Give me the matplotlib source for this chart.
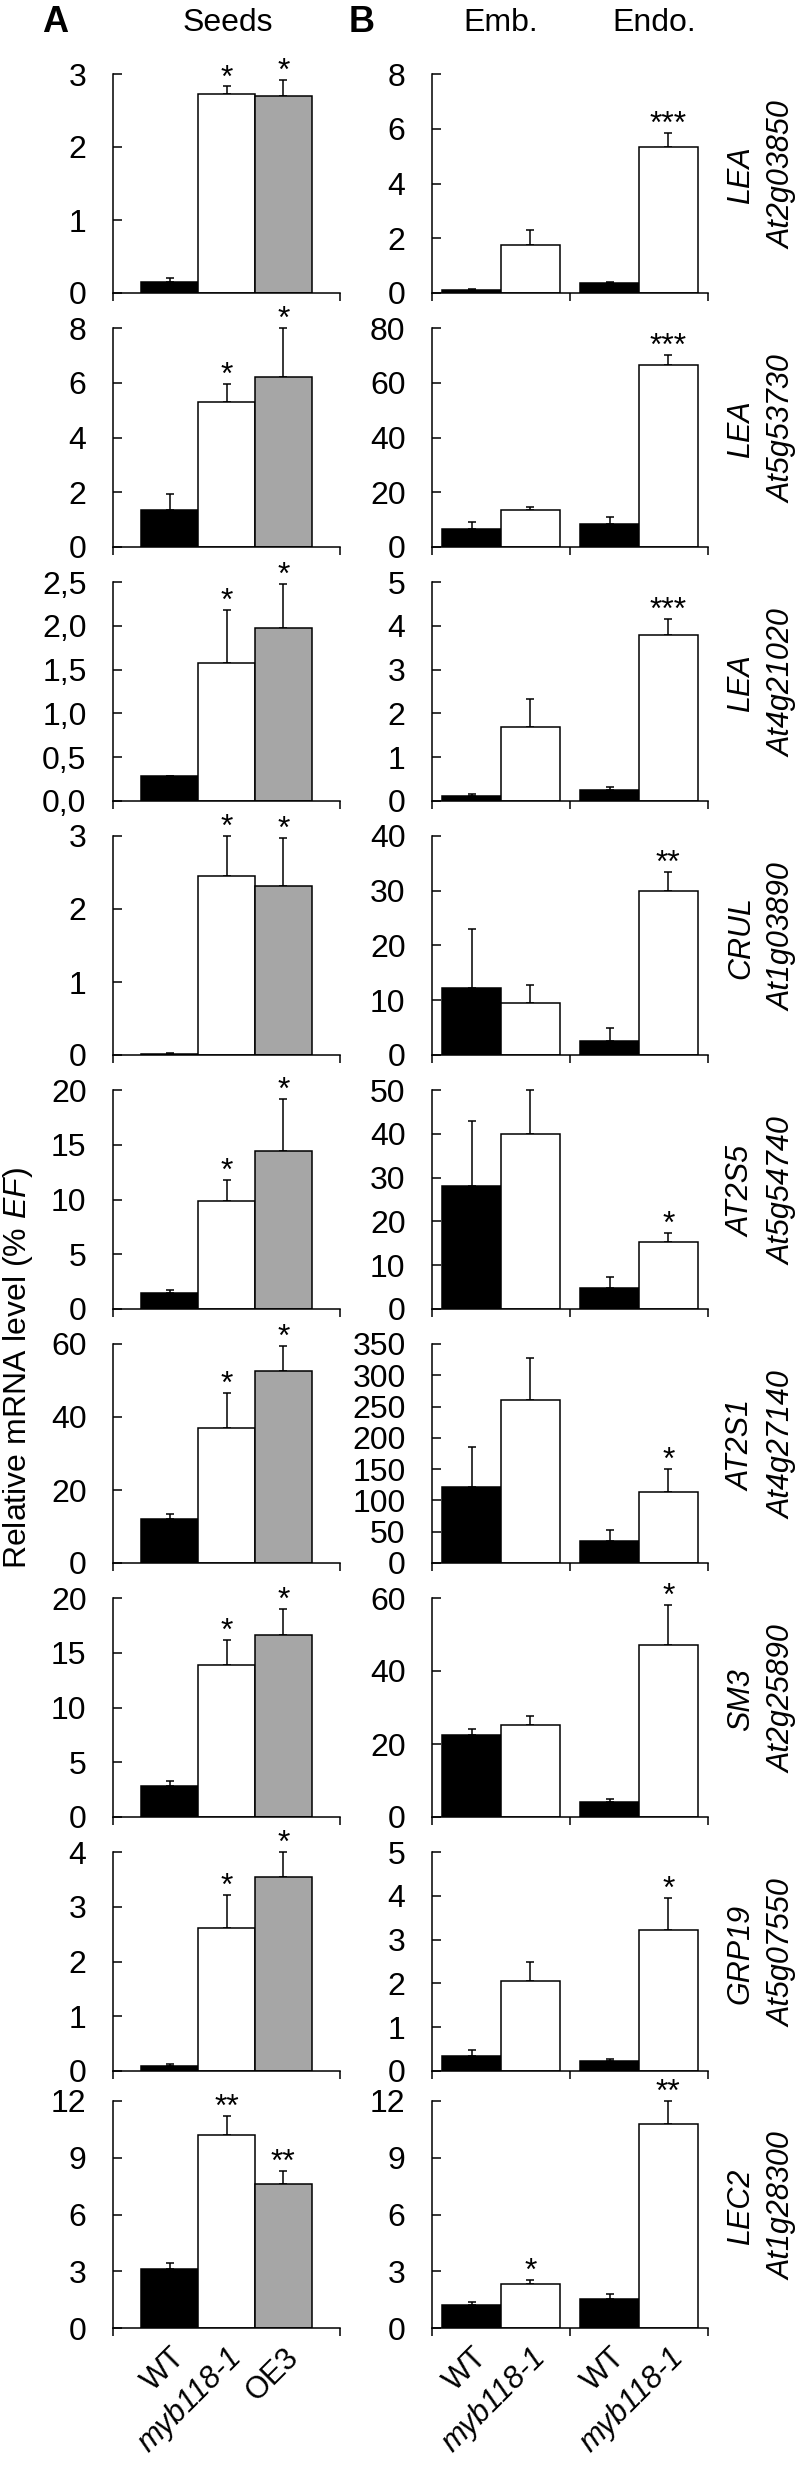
import matplotlib
matplotlib.use("Agg")
import matplotlib.pyplot as plt
import numpy as np

# ---------------- data ----------------
genes = ['LEA', 'LEA', 'LEA', 'CRUL', 'AT2S5', 'AT2S1', 'SM3', 'GRP19', 'LEC2']
loci = ['At2g03850', 'At5g53730', 'At4g21020', 'At1g03890', 'At5g54740',
        'At4g27140', 'At2g25890', 'At5g07550', 'At1g28300']

seeds_labels = ['WT', 'myb118-1', 'OE3']
seeds_wt = [0.15, 1.35, 0.28, 0.02, 1.5, 12.0, 2.8, 0.1, 3.1]
seeds_wt_err = [0.05, 0.6, 0.01, 0.01, 0.25, 1.5, 0.5, 0.03, 0.35]
seeds_myb = [2.73, 5.3, 1.58, 2.45, 9.9, 37.0, 13.9, 2.62, 10.2]
seeds_myb_err = [0.1, 0.65, 0.6, 0.55, 1.9, 9.5, 2.3, 0.6, 1.0]
seeds_oe3 = [2.7, 6.2, 1.98, 2.32, 14.4, 52.5, 16.6, 3.55, 7.6]
seeds_oe3_err = [0.22, 1.8, 0.5, 0.65, 4.8, 7.0, 2.4, 0.45, 0.7]
seeds_myb_stars = ['*', '*', '*', '*', '*', '*', '*', '*', '**']
seeds_oe3_stars = ['*', '*', '*', '*', '*', '*', '*', '*', '**']

tissue_labels = ['WT', 'myb118-1', 'WT', 'myb118-1']
emb_wt = [0.1, 6.5, 0.12, 12.3, 28.0, 122.0, 22.5, 0.35, 1.2]
emb_wt_err = [0.05, 2.5, 0.03, 10.7, 15.0, 63.0, 1.5, 0.12, 0.2]
emb_myb = [1.75, 13.5, 1.68, 9.5, 40.0, 260.0, 25.3, 2.05, 2.3]
emb_myb_err = [0.55, 1.2, 0.65, 3.3, 10.0, 67.0, 2.4, 0.45, 0.25]
endo_wt = [0.35, 8.5, 0.25, 2.6, 4.8, 35.0, 4.0, 0.22, 1.55]
endo_wt_err = [0.05, 2.3, 0.07, 2.4, 2.5, 17.0, 0.8, 0.05, 0.25]
endo_myb = [5.35, 66.5, 3.8, 30.0, 15.3, 113.0, 47.0, 3.22, 10.8]
endo_myb_err = [0.48, 3.5, 0.35, 3.5, 2.0, 37.0, 11.0, 0.73, 1.2]
emb_myb_stars = ['', '', '', '', '', '', '', '', '*']
endo_myb_stars = ['***', '***', '***', '**', '*', '*', '*', '*', '**']

a_ymax = [3, 8, 2.5, 3, 20, 60, 20, 4, 12]
a_ystep = [1, 2, 0.5, 1, 5, 20, 5, 1, 3]
a_decimals = [0, 0, 1, 0, 0, 0, 0, 0, 0]
b_ymax = [8, 80, 5, 40, 50, 350, 60, 5, 12]
b_ystep = [2, 20, 1, 10, 10, 50, 20, 1, 3]

# ---------------- style ----------------
FAM = ['Liberation Sans', 'DejaVu Sans']
plt.rcParams['font.family'] = FAM
plt.rcParams['mathtext.fontset'] = 'custom'
plt.rcParams['mathtext.rm'] = 'Liberation Sans'
plt.rcParams['mathtext.it'] = 'Liberation Sans:italic'

W, H = 800, 2471
fig = plt.figure(figsize=(W / 100, H / 100), dpi=100)

BLACK = '#000000'
WHITE = '#ffffff'
GREY = '#a6a6a6'
LW = 1.1
TICK_FS = 23
STAR_FS = 23

zeros = [293 + 254 * i for i in range(8)] + [2328]
tops = [z - 219 for z in zeros[:8]] + [2101]

A_X0, A_X1 = 113, 340
B_X0, B_X1 = 432, 708


def fmt(v, d):
    return f'{v:.{d}f}'.replace('.', ',')


def style_axes(ax, ymax, step, dec, xlim, xt):
    ax.set_ylim(0, ymax)
    ax.set_xlim(*xlim)
    for s in ['top', 'right']:
        ax.spines[s].set_visible(False)
    for s in ['left', 'bottom']:
        ax.spines[s].set_linewidth(LW)
    ticks = np.arange(0, ymax + step / 2, step)
    ax.set_yticks(ticks)
    ax.set_yticklabels([fmt(t, dec) for t in ticks])
    ax.tick_params(axis='y', direction='in', length=6.5, width=LW,
                   labelsize=TICK_FS, pad=19)
    ax.set_xticks(xt)
    ax.set_xticklabels([])
    ax.tick_params(axis='x', direction='out', length=6, width=LW)
    ax.patch.set_alpha(0)


def star(ax, x, y, s):
    if s:
        ax.annotate(s, xy=(x, y), xytext=(0, 0), textcoords='offset points',
                    ha='center', va='baseline', fontsize=STAR_FS,
                    annotation_clip=False)


def ebar(ax, xs, vals, errs):
    eb = ax.errorbar(xs, vals, yerr=[np.zeros(len(errs)), errs], fmt='none',
                     ecolor='black', elinewidth=LW, capsize=3.2, capthick=LW,
                     zorder=1)
    for art in list(eb.lines[1]) + list(eb.lines[2]):
        art.set_clip_on(False)


def xlabel(ax, x, lab):
    ax.annotate(lab, xy=(x, 0), xycoords=('data', 'axes fraction'),
                xytext=(8, -18), textcoords='offset points',
                ha='right', va='center', rotation=45, rotation_mode='anchor',
                fontsize=22, style='italic' if lab.startswith('myb') else 'normal')


for i in range(9):
    z, t = zeros[i], tops[i]
    h = z - t
    # ---- panel A (seeds) ----
    axA = fig.add_axes([A_X0 / W, 1 - z / H, (A_X1 - A_X0) / W, h / H])
    xs = np.arange(3)
    vals = [seeds_wt[i], seeds_myb[i], seeds_oe3[i]]
    errs = [seeds_wt_err[i], seeds_myb_err[i], seeds_oe3_err[i]]
    ebar(axA, xs, vals, errs)
    axA.bar(xs, vals, width=1.0, color=[BLACK, WHITE, GREY], edgecolor='black',
            linewidth=LW, zorder=2)
    style_axes(axA, a_ymax[i], a_ystep[i], a_decimals[i], (-1, 3), [-1, 3])
    star(axA, 1, vals[1] + errs[1], seeds_myb_stars[i])
    star(axA, 2, vals[2] + errs[2], seeds_oe3_stars[i])

    # ---- panel B (embryo / endosperm) ----
    axB = fig.add_axes([B_X0 / W, 1 - z / H, (B_X1 - B_X0) / W, h / H])
    bw = 0.424
    xb = np.array([0 - bw / 2, 0 + bw / 2, 1 - bw / 2, 1 + bw / 2])
    bvals = [emb_wt[i], emb_myb[i], endo_wt[i], endo_myb[i]]
    berrs = [emb_wt_err[i], emb_myb_err[i], endo_wt_err[i], endo_myb_err[i]]
    ebar(axB, xb, bvals, berrs)
    axB.bar(xb, bvals, width=bw, color=[BLACK, WHITE, BLACK, WHITE],
            edgecolor='black', linewidth=LW, zorder=2)
    style_axes(axB, b_ymax[i], b_ystep[i], 0, (-0.5, 1.5), [-0.5, 0.5, 1.5])
    star(axB, xb[1], bvals[1] + berrs[1], emb_myb_stars[i])
    star(axB, xb[3], bvals[3] + berrs[3], endo_myb_stars[i])

    # ---- gene label on the right ----
    yc = 1 - ((t + z) / 2 - 8) / H
    fig.text(741 / W, yc, genes[i], rotation=90, ha='center', va='center',
             fontsize=22, style='italic')
    fig.text(783 / W, yc, loci[i], rotation=90, ha='center', va='center',
             fontsize=22, style='italic')

    if i == 8:
        for x, lab in zip(xs, seeds_labels):
            xlabel(axA, x, lab)
        for x, lab in zip(xb, tissue_labels):
            xlabel(axB, x, lab)

# ---- headers ----
fig.text(55 / W, 1 - 22 / H, 'A', fontsize=26, fontweight='bold', ha='center', va='center')
fig.text(228 / W, 1 - 23 / H, 'Seeds', fontsize=23, ha='center', va='center')
fig.text(362 / W, 1 - 22 / H, 'B', fontsize=26, fontweight='bold', ha='center', va='center')
fig.text(501 / W, 1 - 23 / H, 'Emb.', fontsize=23, ha='center', va='center')
fig.text(654 / W, 1 - 23 / H, 'Endo.', fontsize=23, ha='center', va='center')

# ---- y label ----
fig.text(18 / W, 1 - 1368 / H, r'Relative mRNA level (% $\mathit{EF}$)',
         rotation=90, ha='center', va='center', fontsize=23)

fig.savefig('out.png', dpi=100)
